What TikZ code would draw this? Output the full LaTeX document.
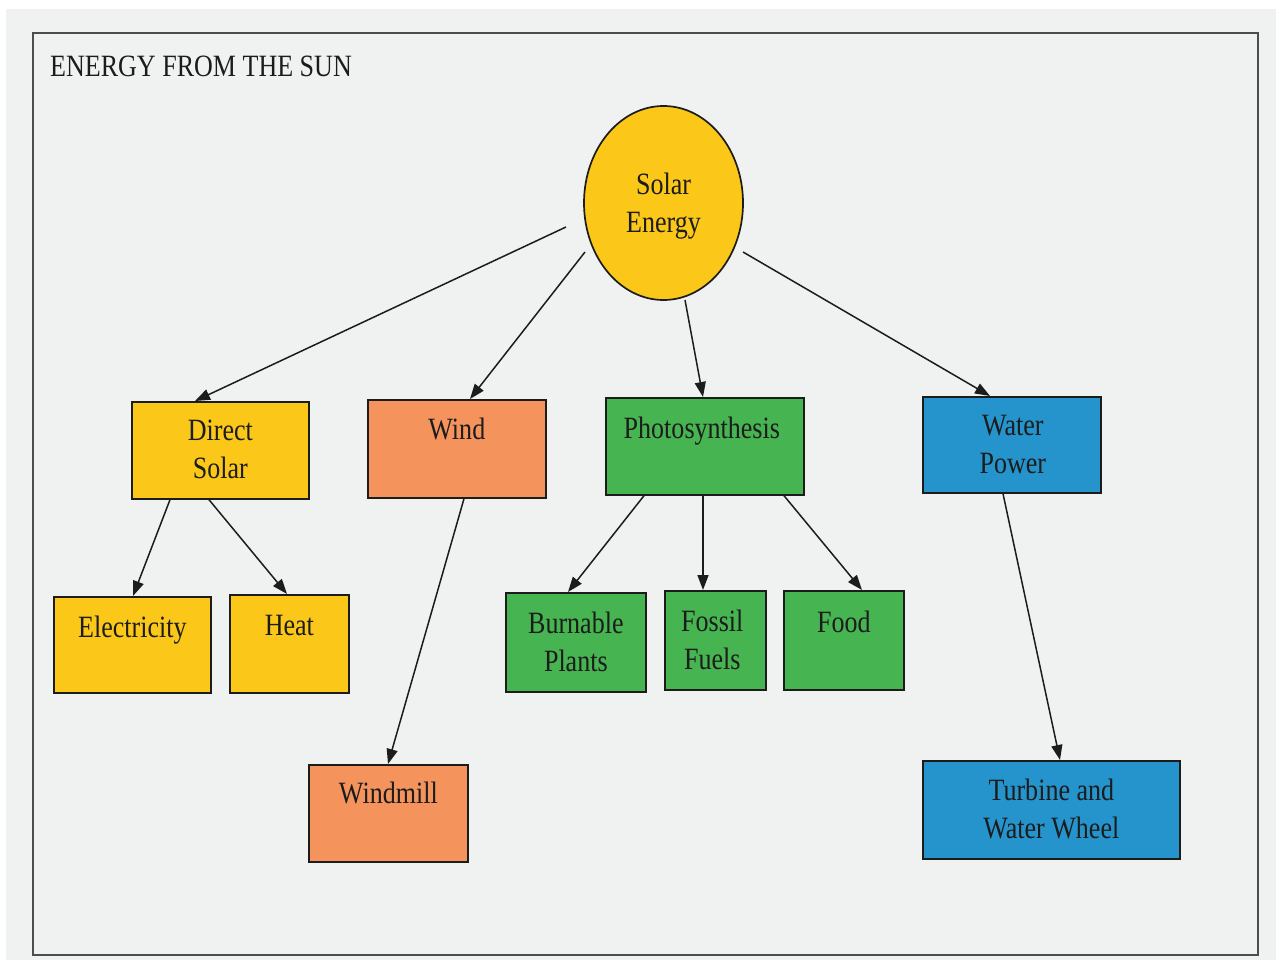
\documentclass[tikz,border=0pt]{standalone}
\usepackage{fontspec}
\setmainfont{Liberation Serif}[FakeStretch=0.84]
\usetikzlibrary{arrows.meta,calc,shapes.geometric}
\definecolor{bgc}{HTML}{F0F2F2}
\definecolor{solarc}{HTML}{FBC81A}
\definecolor{orangec}{HTML}{F4935C}
\definecolor{greenc}{HTML}{46B450}
\definecolor{bluec}{HTML}{2594CC}
\definecolor{inkc}{HTML}{1C1C1C}
\definecolor{framec}{HTML}{4A4F4A}
\newcommand{\mylines}[2]{\begin{tabular}[t]{@{}c@{}}#1\\#2\end{tabular}}
\tikzset{
  box/.style={draw=inkc, line width=1.7pt, inner sep=0pt, anchor=north west},
  lbl/.style={anchor=base, inner sep=0pt, text=inkc, font=\fontsize{31}{38}\selectfont},
  arr/.style={line width=1.5pt, draw=inkc, -{Triangle[length=15pt,width=11pt]}},
  frame/.style={draw=framec, line width=2pt},
}
\begin{document}
\begin{tikzpicture}[x=1pt,y=-1pt]
\useasboundingbox (0,0) rectangle (1281,960);
\fill[white] (0,0) rectangle (1281,960);
\fill[bgc] (6,9) rectangle (1276,960);
\draw[frame] (33,33) rectangle (1258,955);

\node[anchor=base west, inner sep=0pt, text=inkc, font=\fontsize{31}{38}\selectfont] (title) at (50,77) {ENERGY FROM THE SUN};

% central ellipse
\node[ellipse, draw=inkc, line width=1.7pt, fill=solarc, minimum width=159pt, minimum height=194pt, inner sep=0pt] (sun) at (663.5,203) {};
\node[lbl] (sunt) at ($(sun.center)+(0,-9)$) {\mylines{Solar}{Energy}};

% boxes
\node[box, fill=solarc, minimum width=177pt, minimum height=97pt] (ds) at (131,401) {};
\node[box, fill=solarc, minimum width=157pt, minimum height=96pt] (elec) at (53,596) {};
\node[box, fill=solarc, minimum width=119pt, minimum height=98pt] (heat) at (229,594) {};
\node[box, fill=orangec, minimum width=178pt, minimum height=98pt] (wind) at (367,399) {};
\node[box, fill=orangec, minimum width=159pt, minimum height=97pt] (mill) at (308,764) {};
\node[box, fill=greenc, minimum width=198pt, minimum height=97pt] (photo) at (605,397) {};
\node[box, fill=greenc, minimum width=140pt, minimum height=99pt] (burn) at (505,592) {};
\node[box, fill=greenc, minimum width=101pt, minimum height=99pt] (fossil) at (664,590) {};
\node[box, fill=greenc, minimum width=120pt, minimum height=99pt] (food) at (783,590) {};
\node[box, fill=bluec, minimum width=178pt, minimum height=96pt] (water) at (922,396) {};
\node[box, fill=bluec, minimum width=257pt, minimum height=98pt] (turb) at (922,760) {};

% labels
\node[lbl] (dst) at ($(ds.north)+(0,39)$) {\mylines{Direct}{Solar}};
\node[lbl] (elect) at ($(elec.north)+(0,41)$) {Electricity};
\node[lbl] (heatt) at ($(heat.north)+(0,41)$) {Heat};
\node[lbl] (windt) at ($(wind.north)+(0,40)$) {Wind};
\node[lbl] (millt) at ($(mill.north)+(0,39)$) {Windmill};
\node[lbl] (photot) at ($(photo.north)+(-3,41)$) {Photosynthesis};
\node[lbl] (burnt) at ($(burn.north)+(0,41)$) {\mylines{Burnable}{Plants}};
\node[lbl] (fossilt) at ($(fossil.north)+(-3,41)$) {\mylines{Fossil}{Fuels}};
\node[lbl] (foodt) at ($(food.north)+(0,42)$) {Food};
\node[lbl] (watert) at ($(water.north)+(1,39)$) {\mylines{Water}{Power}};
\node[lbl] (turbt) at ($(turb.north)+(0,40)$) {\mylines{Turbine and}{Water Wheel}};

% arrow tails near the ellipse
\coordinate (s1) at (566,227);
\coordinate (s2) at (585,252);
\coordinate (s3) at (685,300);
\coordinate (s4) at (743,252);

\draw[arr] (s1) -- (195,0 |- ds.north);
\draw[arr] (s2) -- (470,0 |- wind.north);
\draw[arr] (s3) -- (703,0 |- photo.north);
\draw[arr] (s4) -- (990,0 |- water.north);
\draw[arr] (170,0 |- ds.south) -- (133,0 |- elec.north);
\draw[arr] (209,0 |- ds.south) -- (287,0 |- heat.north);
\draw[arr] (464,0 |- wind.south) -- (388,0 |- mill.north);
\draw[arr] (644,0 |- photo.south) -- (568,0 |- burn.north);
\draw[arr] (703,0 |- photo.south) -- (703,0 |- fossil.north);
\draw[arr] (784,0 |- photo.south) -- (862,0 |- food.north);
\draw[arr] (1003,0 |- water.south) -- (1060,0 |- turb.north);
\end{tikzpicture}
\end{document}
